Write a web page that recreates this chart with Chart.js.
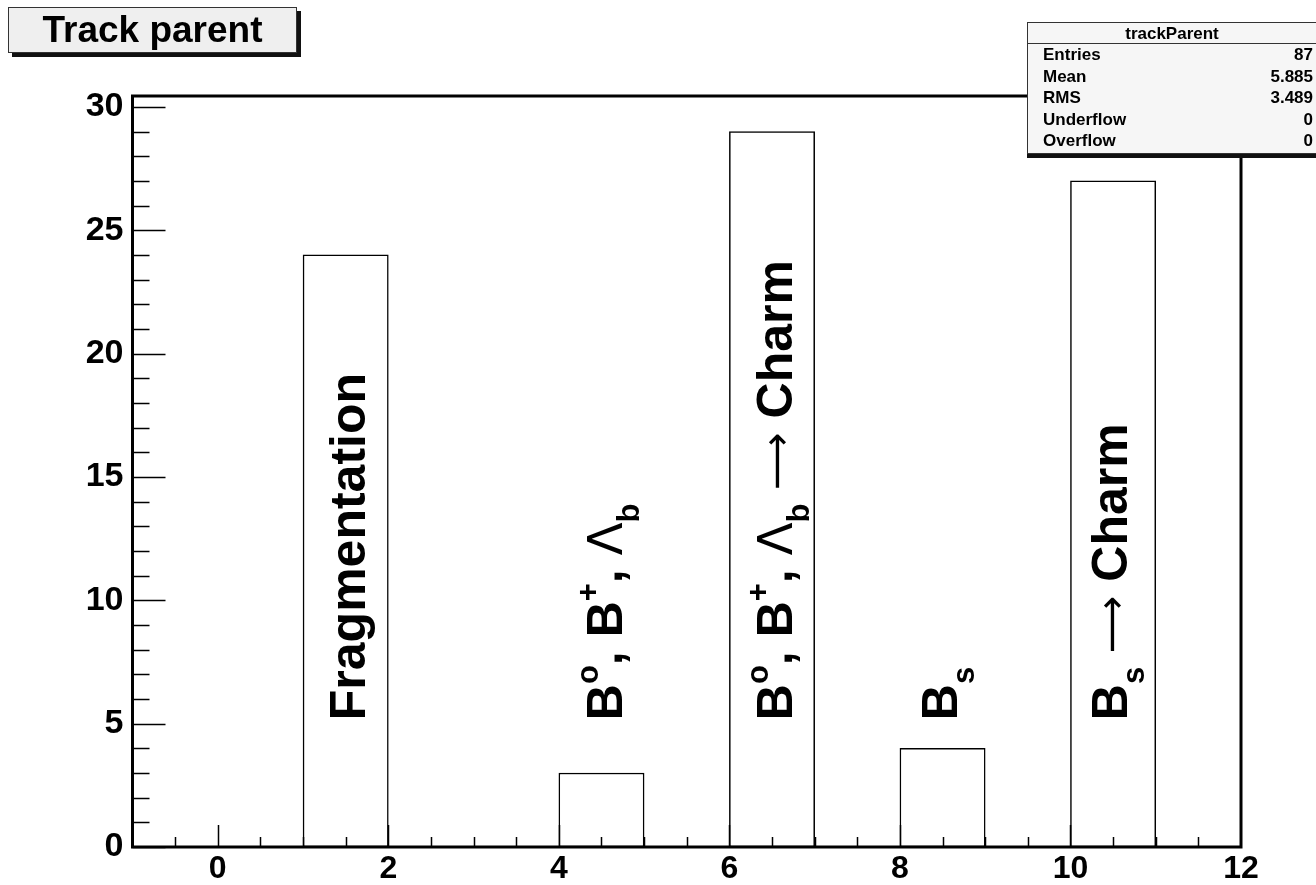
<!DOCTYPE html>
<html>
<head>
<meta charset="utf-8">
<script src="https://cdn.jsdelivr.net/npm/chart.js@4.4.1/dist/chart.umd.min.js"></script>
<style>
  body { margin: 0; background: #fff; font-family: "Liberation Sans", Arial, sans-serif; }
  #wrap { position: relative; width: 1316px; height: 885px; }
  #title {
    position: absolute; left: 8px; top: 7px; width: 287px; height: 44px;
    background: #efefef; border: 1px solid #333; box-shadow: 4px 4px 0 #111;
    font: bold 37px "Liberation Sans", Arial, sans-serif; line-height: 44px; text-align: center;
  }
  #stats {
    position: absolute; left: 1027px; top: 22px; width: 300px; height: 130px;
    background: #f6f6f6; border: 1px solid #333; box-shadow: 0 4px 0 #111;
    font: bold 17px "Liberation Sans", Arial, sans-serif;
  }
  #stats .head { height: 20px; line-height: 21px; text-align: center; border-bottom: 1px solid #333; width: 288px; }
  #stats .row { height: 21.6px; line-height: 21.6px; display: flex; justify-content: space-between; width: 270px; padding-left: 15px; }
</style>
</head>
<body>
<div id="wrap">
  <canvas id="hist" width="1316" height="885"></canvas>
  <div id="title">Track parent</div>
  <div id="stats"></div>
</div>
<script>
// histogram bins of width 1 from -1 to 12
const binCenters = [-0.5, 0.5, 1.5, 2.5, 3.5, 4.5, 5.5, 6.5, 7.5, 8.5, 9.5, 10.5, 11.5];
const counts = [0, 0, 24, 0, 0, 3, 0, 29, 0, 4, 0, 27, 0];
const xTicks = [0, 2, 4, 6, 8, 10, 12];
const yTicks = [0, 5, 10, 15, 20, 25, 30];
const statNames = ['Entries', 'Mean', 'RMS', 'Underflow', 'Overflow'];
const statValues = ['87', '5.885', '3.489', '0', '0'];

// labels written over the bins, [text, kind]
const binLabels = [
  [['Fragmentation', 'b']],
  [['B', 'b'], ['o', 'sup'], [', B', 'b'], ['+', 'sup'], [', ', 'b'], ['\u039B', 'sym'], ['b', 'sub']],
  [['B', 'b'], ['o', 'sup'], [', B', 'b'], ['+', 'sup'], [', ', 'b'], ['\u039B', 'sym'], ['b', 'sub'], [' ', 'b'], ['\u27F6', 'arr'], [' ', 'b'], ['Charm', 'b']],
  [['B', 'b'], ['s', 'sub']],
  [['B', 'b'], ['s', 'sub'], [' ', 'b'], ['\u27F6', 'arr'], [' ', 'b'], ['Charm', 'b']]
];

const stats = document.getElementById('stats');
let html = '<div class="head">trackParent</div>';
statNames.forEach((n, i) => { html += '<div class="row"><span>' + n + '</span><span>' + statValues[i] + '</span></div>'; });
stats.innerHTML = html;

const FONT = '"Liberation Sans", Arial, sans-serif';

const frameTicks = {
  id: 'frameTicks',
  afterDatasetsDraw(chart) {
    const { ctx, chartArea: a, scales: { x, y } } = chart;
    ctx.save();
    ctx.strokeStyle = '#000';
    ctx.lineWidth = 1.5;
    ctx.beginPath();
    for (let v = 0; v <= 30; v++) {
      const py = Math.round(y.getPixelForValue(v)) + 0.5;
      ctx.moveTo(a.left, py);
      ctx.lineTo(a.left + (v % 5 === 0 ? 33 : 17), py);
    }
    for (let v = -0.5; v < 12; v += 0.5) {
      const px = Math.round(x.getPixelForValue(v)) + 0.5;
      ctx.moveTo(px, a.bottom);
      ctx.lineTo(px, a.bottom - (v % 2 === 0 ? 22 : 10));
    }
    ctx.stroke();
    ctx.lineWidth = 3;
    ctx.strokeRect(a.left, a.top, a.right - a.left, a.bottom - a.top);
    ctx.restore();
  }
};

const binText = {
  id: 'binText',
  afterDatasetsDraw(chart) {
    const { ctx, scales: { x, y } } = chart;
    const anchors = [1.73, 4.74, 6.74, 8.67, 10.66];
    const fonts = {
      b: 'bold 50px ' + FONT,
      sym: '48px "DejaVu Sans", ' + FONT,
      arr: '40px "DejaVu Sans", ' + FONT,
      sup: 'bold 31px ' + FONT,
      sub: 'bold 31px ' + FONT
    };
    const shift = { b: 0, sym: 0, arr: -2, sup: -24, sub: 17 };
    ctx.save();
    ctx.fillStyle = '#000';
    ctx.textBaseline = 'alphabetic';
    ctx.textAlign = 'left';
    binLabels.forEach((parts, i) => {
      ctx.save();
      ctx.translate(x.getPixelForValue(anchors[i]), y.getPixelForValue(5.14));
      ctx.rotate(-Math.PI / 2);
      let cx = 0;
      parts.forEach(([t, k]) => {
        ctx.font = fonts[k];
        ctx.fillText(t, cx, shift[k]);
        cx += ctx.measureText(t).width;
      });
      ctx.restore();
    });
    ctx.restore();
  }
};

new Chart(document.getElementById('hist'), {
  type: 'bar',
  data: {
    datasets: [{
      label: 'trackParent',
      data: binCenters.map((c, i) => ({ x: c, y: counts[i] })),
      backgroundColor: '#fff',
      borderColor: '#000',
      borderWidth: 1.5,
      borderSkipped: false,
      barPercentage: 1,
      categoryPercentage: 1
    }]
  },
  options: {
    responsive: false,
    devicePixelRatio: 1,
    animation: false,
    layout: { padding: { left: 0, top: 96, right: 75, bottom: 0 } },
    plugins: { legend: { display: false }, tooltip: { enabled: false } },
    scales: {
      x: {
        type: 'linear', min: -1, max: 12, offset: false,
        grid: { display: false, offset: false },
        border: { display: false },
        afterBuildTicks: s => { s.ticks = xTicks.map(v => ({ value: v })); },
        afterFit: s => { s.height = 38; },
        ticks: { color: '#000', padding: -5, maxRotation: 0, font: { family: FONT, weight: 'bold', size: 32 } }
      },
      y: {
        min: 0, max: 30.44,
        grid: { display: false },
        border: { display: false },
        afterBuildTicks: s => { s.ticks = yTicks.map(v => ({ value: v })); },
        afterFit: s => { s.width = 132.5; },
        ticks: { color: '#000', padding: 1, font: { family: FONT, weight: 'bold', size: 34 } }
      }
    }
  },
  plugins: [frameTicks, binText]
});
</script>
</body>
</html>
